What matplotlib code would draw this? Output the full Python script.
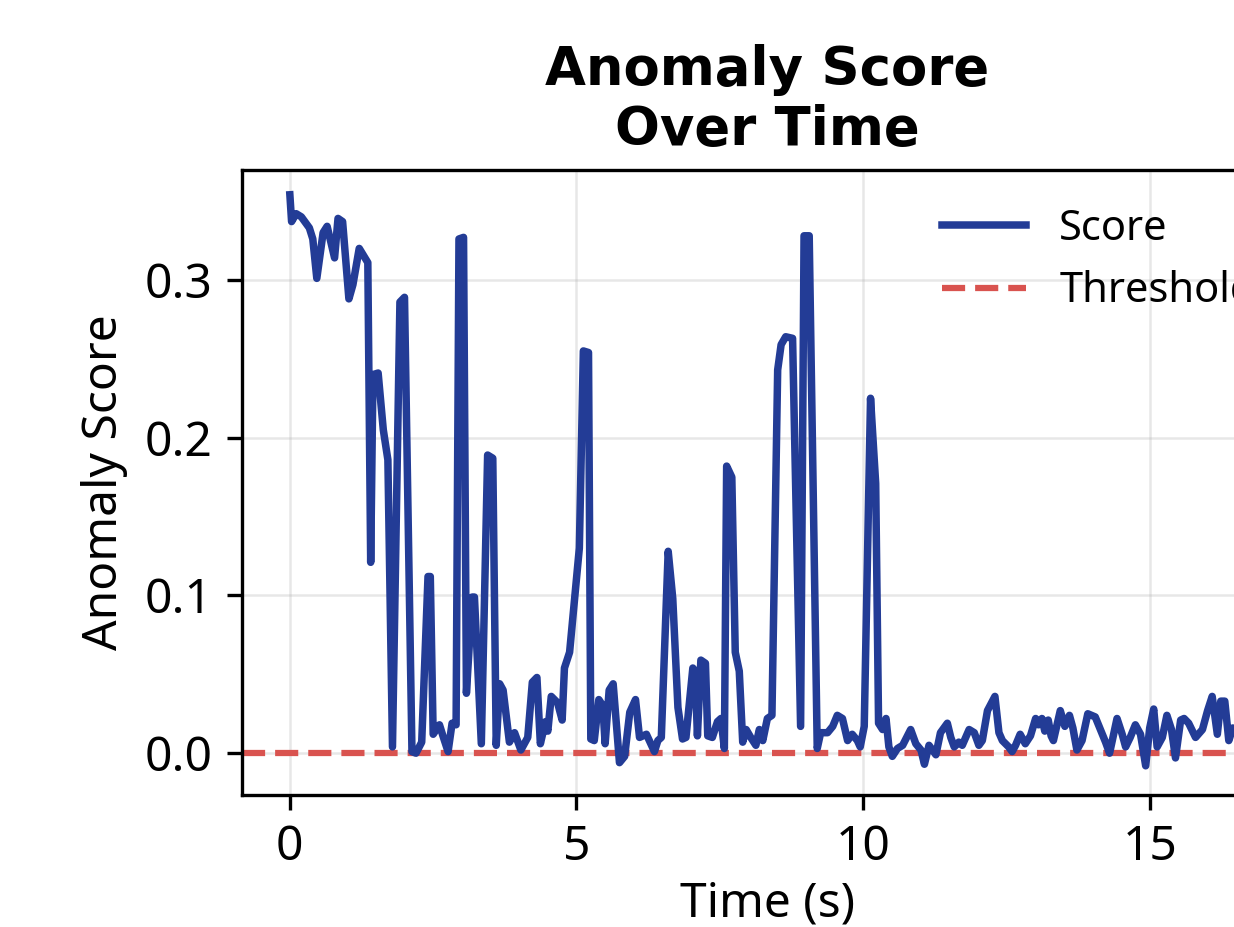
import matplotlib
matplotlib.use("Agg")
import matplotlib.pyplot as plt

# ---- data ----
time_s = [0.00, 0.03, 0.11, 0.20, 0.34, 0.40, 0.47, 0.58, 0.65, 0.78, 0.84, 0.92,
          1.03, 1.10, 1.21, 1.36, 1.41, 1.45, 1.54, 1.63, 1.71, 1.79, 1.92, 2.00,
          2.13, 2.20, 2.30, 2.41, 2.45, 2.50, 2.61, 2.67, 2.76, 2.83, 2.90, 2.95,
          3.03, 3.08, 3.18, 3.22, 3.34, 3.45, 3.54, 3.60, 3.66, 3.72, 3.83, 3.92,
          4.03, 4.15, 4.23, 4.31, 4.37, 4.46, 4.50, 4.56, 4.67, 4.75, 4.79, 4.88,
          5.05, 5.12, 5.21, 5.25, 5.31, 5.39, 5.46, 5.50, 5.57, 5.64, 5.75, 5.84,
          5.93, 6.03, 6.10, 6.22, 6.36, 6.42, 6.48, 6.60, 6.68, 6.77, 6.85, 6.91,
          7.03, 7.07, 7.11, 7.17, 7.25, 7.29, 7.37, 7.46, 7.52, 7.58, 7.62, 7.71,
          7.77, 7.84, 7.90, 7.96, 8.04, 8.13, 8.19, 8.25, 8.33, 8.41, 8.51, 8.57,
          8.65, 8.77, 8.91, 8.97, 9.06, 9.20, 9.26, 9.38, 9.47, 9.55, 9.64, 9.73,
          9.81, 9.90, 9.95, 10.02, 10.13, 10.22, 10.27, 10.34, 10.40, 10.45, 10.51,
          10.60, 10.69, 10.83, 10.92, 11.01, 11.07, 11.15, 11.27, 11.35, 11.47,
          11.53, 11.59, 11.67, 11.73, 11.85, 11.94, 12.02, 12.08, 12.17, 12.30,
          12.37, 12.43, 12.54, 12.60, 12.66, 12.74, 12.83, 12.92, 13.01, 13.06,
          13.12, 13.17, 13.23, 13.28, 13.32, 13.44, 13.52, 13.60, 13.66, 13.73,
          13.82, 13.92, 14.05, 14.14, 14.23, 14.30, 14.37, 14.43, 14.52, 14.58,
          14.66, 14.75, 14.84, 14.93, 15.00, 15.07, 15.13, 15.22, 15.30, 15.38,
          15.45, 15.54, 15.60, 15.68, 15.80, 15.92, 16.01, 16.09, 16.18, 16.24,
          16.31, 16.38, 16.45, 16.55, 16.67]
score = [0.354, 0.337, 0.342, 0.340, 0.333, 0.326, 0.301, 0.330, 0.334, 0.314, 0.339, 0.337,
         0.288, 0.297, 0.320, 0.311, 0.121, 0.240, 0.241, 0.205, 0.186, 0.004, 0.286, 0.289,
         0.001, 0.000, 0.007, 0.112, 0.112, 0.012, 0.018, 0.011, 0.001, 0.019, 0.018, 0.326,
         0.327, 0.038, 0.099, 0.099, 0.006, 0.189, 0.187, 0.005, 0.044, 0.040, 0.007, 0.013,
         0.002, 0.010, 0.045, 0.048, 0.006, 0.020, 0.014, 0.036, 0.032, 0.021, 0.054, 0.064,
         0.130, 0.255, 0.254, 0.009, 0.008, 0.034, 0.030, 0.006, 0.040, 0.044, -0.006, -0.002,
         0.026, 0.034, 0.010, 0.012, 0.001, 0.008, 0.010, 0.128, 0.098, 0.029, 0.009, 0.010,
         0.054, 0.052, 0.011, 0.059, 0.057, 0.011, 0.010, 0.020, 0.022, 0.003, 0.182, 0.175,
         0.064, 0.052, 0.007, 0.015, 0.010, 0.005, 0.015, 0.008, 0.022, 0.024, 0.243, 0.259,
         0.264, 0.263, 0.017, 0.328, 0.328, 0.003, 0.013, 0.013, 0.017, 0.024, 0.022, 0.008,
         0.012, 0.008, 0.004, 0.017, 0.225, 0.171, 0.019, 0.015, 0.022, 0.004, -0.002,
         0.003, 0.005, 0.015, 0.006, 0.002, -0.007, 0.005, -0.001, 0.013, 0.019,
         0.010, 0.004, 0.007, 0.005, 0.015, 0.013, 0.005, 0.008, 0.027, 0.036,
         0.013, 0.008, 0.004, 0.001, 0.005, 0.012, 0.006, 0.011, 0.022, 0.018,
         0.022, 0.014, 0.021, 0.011, 0.008, 0.027, 0.017, 0.024, 0.016, 0.002,
         0.008, 0.025, 0.023, 0.015, 0.007, 0.000, 0.012, 0.022, 0.012, 0.004,
         0.010, 0.018, 0.012, -0.008, 0.016, 0.028, 0.004, 0.010, 0.024, 0.015,
         -0.003, 0.021, 0.022, 0.019, 0.010, 0.015, 0.027, 0.036, 0.012, 0.033,
         0.033, 0.008, 0.016, 0.012, 0.020]
threshold = 0.0

title_text = "Anomaly Score\nOver Time"
x_label = "Time (s)"
y_label = "Anomaly Score"
x_ticks = [0, 5, 10, 15]
y_ticks = [0.0, 0.1, 0.2, 0.3]

# ---- figure ----
plt.rcParams['font.family'] = ['Noto Sans', 'DejaVu Sans']
fig = plt.figure(figsize=(1234 / 300, 927 / 300), dpi=300)
ax = fig.add_axes([242 / 1234, 1 - 795 / 927, (1293 - 242) / 1234, (795 - 170) / 927])

ax.plot(time_s, score, color='#233C96', lw=1.8, label='Score', zorder=3)
ax.axhline(threshold, color='#D9534F', lw=1.5, ls='--', label='Threshold', zorder=2)

ax.set_xlim(-0.835, 17.5)
ax.set_ylim(-0.0265, 0.3697)
ax.set_xticks(x_ticks)
ax.set_yticks(y_ticks)
ax.tick_params(labelsize=11.5)
ax.grid(True, alpha=0.3, lw=0.6)
ax.set_axisbelow(True)

ax.set_xlabel(x_label, fontsize=11.5, labelpad=2.2)
ax.set_ylabel(y_label, fontsize=11.5)
ax.set_title(title_text, fontsize=12.7, fontweight='bold', family=['DejaVu Sans'])
ax.legend(loc='upper right', frameon=False, fontsize=10)

fig.savefig('out.png', dpi=300)
